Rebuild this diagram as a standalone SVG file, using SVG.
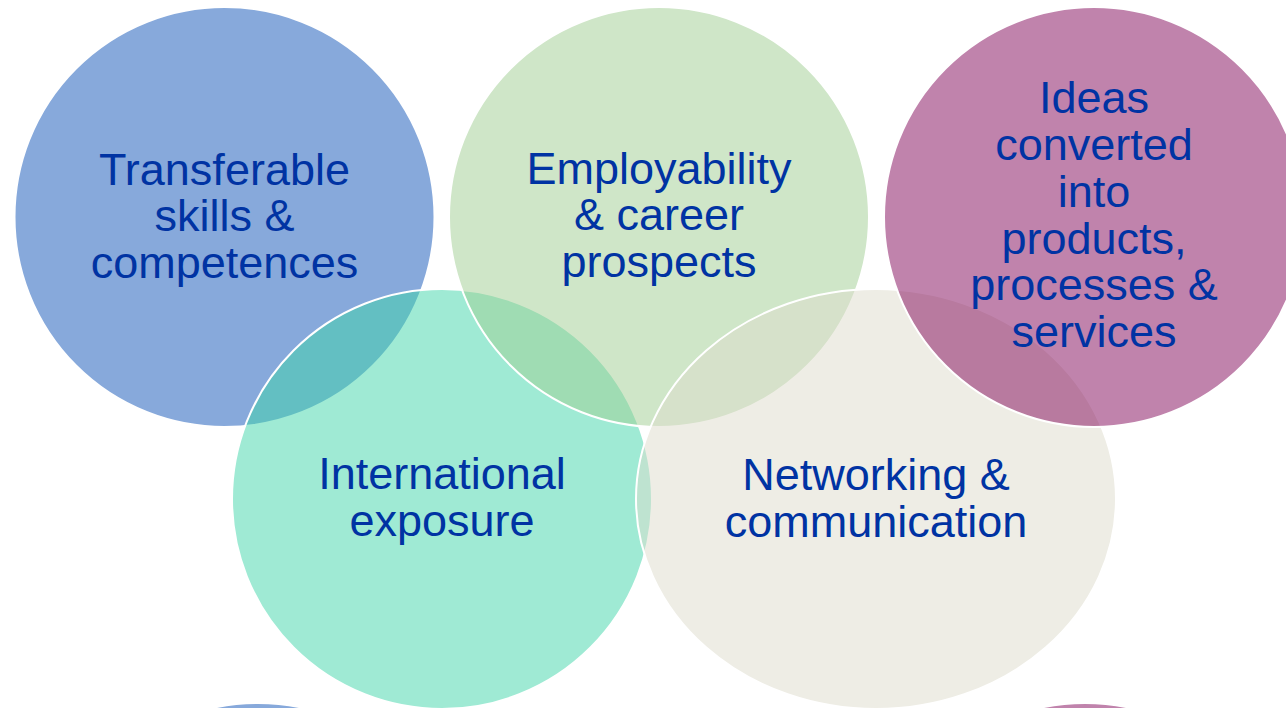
<svg xmlns="http://www.w3.org/2000/svg" width="1286" height="708" viewBox="0 0 1286 708">
<style>
.c{fill-opacity:0.5;stroke:#FFFFFF;stroke-width:2}
.t{font-family:"Liberation Sans",Arial,sans-serif;font-size:45px;fill:#0033A3;text-anchor:middle}
</style>
<rect width="1286" height="708" fill="#FFFFFF"/>
<g id="bottom-blue"><circle class="c" cx="258" cy="913" r="210" fill="#0F53B7"/></g>
<g id="bottom-purple"><circle class="c" cx="1085" cy="913" r="210" fill="#810759"/></g>
<g id="transferable"><circle class="c" cx="224.5" cy="217" r="210" fill="#0F53B7"/></g>
<g id="international"><circle class="c" cx="442" cy="499" r="210" fill="#3FD5A9"/></g>
<g id="employability"><circle class="c" cx="659" cy="217" r="210" fill="#9FCD91"/></g>
<g id="networking"><ellipse class="c" cx="876" cy="499" rx="240" ry="210" fill="#DDDBCB"/></g>
<g id="ideas"><circle class="c" cx="1094" cy="217" r="210" fill="#810759"/></g>
<g id="labels">
<text class="t" x="224.5" y="185">Transferable</text>
<text class="t" x="224.5" y="231">skills &amp;</text>
<text class="t" x="224.5" y="278">competences</text>
<text class="t" x="659" y="184">Employability</text>
<text class="t" x="659" y="230">&amp; career</text>
<text class="t" x="659" y="277">prospects</text>
<text class="t" x="1094" y="113">Ideas</text>
<text class="t" x="1094" y="160">converted</text>
<text class="t" x="1094" y="207">into</text>
<text class="t" x="1094" y="253.5">products,</text>
<text class="t" x="1094" y="300">processes &amp;</text>
<text class="t" x="1094" y="347">services</text>
<text class="t" x="442" y="489">International</text>
<text class="t" x="442" y="536">exposure</text>
<text class="t" x="876" y="490">Networking &amp;</text>
<text class="t" x="876" y="537">communication</text>
</g>
<g id="connectors"></g>
</svg>
